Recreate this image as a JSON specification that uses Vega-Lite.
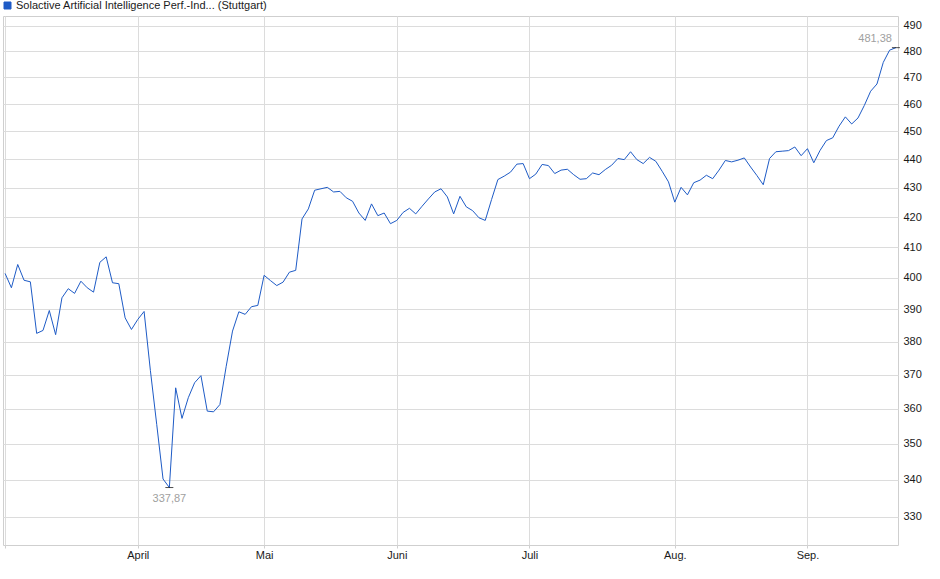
{
  "$schema": "https://vega.github.io/schema/vega-lite/v6.json",
  "width": 895,
  "height": 529,
  "autosize": "none",
  "padding": {"left": 3, "top": 16, "right": 42, "bottom": 34},
  "background": "white",
  "config": {
    "font": "Liberation Sans",
    "view": {"stroke": "#cfcfcf", "strokeWidth": 1},
    "axis": {
      "labelFont": "Liberation Sans",
      "labelFontSize": 11,
      "labelColor": "#1a1a1a",
      "gridColor": "#dcdcdc",
      "gridWidth": 1,
      "domain": false,
      "title": null
    }
  },
  "datasets": {
    "series": [
      {"date": "2025-03-03", "value": 401.4},
      {"date": "2025-03-04", "value": 396.8},
      {"date": "2025-03-05", "value": 404.3},
      {"date": "2025-03-06", "value": 399.2},
      {"date": "2025-03-07", "value": 398.7},
      {"date": "2025-03-10", "value": 382.5},
      {"date": "2025-03-11", "value": 383.4},
      {"date": "2025-03-12", "value": 389.6},
      {"date": "2025-03-13", "value": 382.1},
      {"date": "2025-03-14", "value": 393.6},
      {"date": "2025-03-17", "value": 396.5},
      {"date": "2025-03-18", "value": 395.0},
      {"date": "2025-03-19", "value": 398.9},
      {"date": "2025-03-20", "value": 396.8},
      {"date": "2025-03-21", "value": 395.4},
      {"date": "2025-03-24", "value": 405.0},
      {"date": "2025-03-25", "value": 406.8},
      {"date": "2025-03-26", "value": 398.4},
      {"date": "2025-03-27", "value": 398.1},
      {"date": "2025-03-28", "value": 387.3},
      {"date": "2025-03-31", "value": 383.7},
      {"date": "2025-04-01", "value": 386.8},
      {"date": "2025-04-02", "value": 389.3},
      {"date": "2025-04-03", "value": 371.2},
      {"date": "2025-04-04", "value": 355.5},
      {"date": "2025-04-07", "value": 340.2},
      {"date": "2025-04-08", "value": 337.87},
      {"date": "2025-04-09", "value": 366.1},
      {"date": "2025-04-10", "value": 357.2},
      {"date": "2025-04-11", "value": 363.2},
      {"date": "2025-04-14", "value": 367.6},
      {"date": "2025-04-15", "value": 369.7},
      {"date": "2025-04-16", "value": 359.3},
      {"date": "2025-04-17", "value": 359.1},
      {"date": "2025-04-22", "value": 361.2},
      {"date": "2025-04-23", "value": 372.5},
      {"date": "2025-04-24", "value": 383.2},
      {"date": "2025-04-25", "value": 389.2},
      {"date": "2025-04-28", "value": 388.4},
      {"date": "2025-04-29", "value": 390.8},
      {"date": "2025-04-30", "value": 391.2},
      {"date": "2025-05-02", "value": 400.8},
      {"date": "2025-05-05", "value": 399.1},
      {"date": "2025-05-06", "value": 397.5},
      {"date": "2025-05-07", "value": 398.6},
      {"date": "2025-05-08", "value": 401.8},
      {"date": "2025-05-09", "value": 402.4},
      {"date": "2025-05-12", "value": 419.4},
      {"date": "2025-05-13", "value": 422.8},
      {"date": "2025-05-14", "value": 429.2},
      {"date": "2025-05-15", "value": 429.7},
      {"date": "2025-05-16", "value": 430.2},
      {"date": "2025-05-19", "value": 428.6},
      {"date": "2025-05-20", "value": 428.8},
      {"date": "2025-05-21", "value": 426.6},
      {"date": "2025-05-22", "value": 425.4},
      {"date": "2025-05-23", "value": 421.4},
      {"date": "2025-05-26", "value": 418.9},
      {"date": "2025-05-27", "value": 424.5},
      {"date": "2025-05-28", "value": 420.5},
      {"date": "2025-05-29", "value": 421.4},
      {"date": "2025-05-30", "value": 417.8},
      {"date": "2025-06-02", "value": 418.9},
      {"date": "2025-06-03", "value": 421.6},
      {"date": "2025-06-04", "value": 423.0},
      {"date": "2025-06-05", "value": 421.1},
      {"date": "2025-06-06", "value": 423.7},
      {"date": "2025-06-09", "value": 426.2},
      {"date": "2025-06-10", "value": 428.6},
      {"date": "2025-06-11", "value": 429.7},
      {"date": "2025-06-12", "value": 426.9},
      {"date": "2025-06-13", "value": 421.1},
      {"date": "2025-06-16", "value": 427.1},
      {"date": "2025-06-17", "value": 423.5},
      {"date": "2025-06-18", "value": 422.2},
      {"date": "2025-06-19", "value": 419.8},
      {"date": "2025-06-20", "value": 418.9},
      {"date": "2025-06-23", "value": 426.0},
      {"date": "2025-06-24", "value": 432.9},
      {"date": "2025-06-25", "value": 434.1},
      {"date": "2025-06-26", "value": 435.5},
      {"date": "2025-06-27", "value": 438.3},
      {"date": "2025-06-30", "value": 438.5},
      {"date": "2025-07-01", "value": 433.2},
      {"date": "2025-07-02", "value": 434.8},
      {"date": "2025-07-03", "value": 438.2},
      {"date": "2025-07-04", "value": 437.8},
      {"date": "2025-07-07", "value": 435.0},
      {"date": "2025-07-08", "value": 436.2},
      {"date": "2025-07-09", "value": 436.5},
      {"date": "2025-07-10", "value": 434.6},
      {"date": "2025-07-11", "value": 433.0},
      {"date": "2025-07-14", "value": 433.2},
      {"date": "2025-07-15", "value": 435.2},
      {"date": "2025-07-16", "value": 434.6},
      {"date": "2025-07-17", "value": 436.4},
      {"date": "2025-07-18", "value": 437.9},
      {"date": "2025-07-21", "value": 440.3},
      {"date": "2025-07-22", "value": 439.9},
      {"date": "2025-07-23", "value": 442.7},
      {"date": "2025-07-24", "value": 439.9},
      {"date": "2025-07-25", "value": 438.5},
      {"date": "2025-07-28", "value": 440.7},
      {"date": "2025-07-29", "value": 439.3},
      {"date": "2025-07-30", "value": 435.8},
      {"date": "2025-07-31", "value": 432.1},
      {"date": "2025-08-01", "value": 425.1},
      {"date": "2025-08-04", "value": 430.2},
      {"date": "2025-08-05", "value": 427.6},
      {"date": "2025-08-06", "value": 431.8},
      {"date": "2025-08-07", "value": 432.7},
      {"date": "2025-08-08", "value": 434.4},
      {"date": "2025-08-11", "value": 433.2},
      {"date": "2025-08-12", "value": 436.2},
      {"date": "2025-08-13", "value": 439.6},
      {"date": "2025-08-14", "value": 439.1},
      {"date": "2025-08-15", "value": 439.7},
      {"date": "2025-08-18", "value": 440.5},
      {"date": "2025-08-19", "value": 437.3},
      {"date": "2025-08-20", "value": 434.3},
      {"date": "2025-08-21", "value": 431.1},
      {"date": "2025-08-22", "value": 440.3},
      {"date": "2025-08-25", "value": 442.7},
      {"date": "2025-08-26", "value": 442.9},
      {"date": "2025-08-27", "value": 443.1},
      {"date": "2025-08-28", "value": 444.4},
      {"date": "2025-08-29", "value": 441.3},
      {"date": "2025-09-01", "value": 443.8},
      {"date": "2025-09-02", "value": 438.8},
      {"date": "2025-09-03", "value": 443.2},
      {"date": "2025-09-04", "value": 446.7},
      {"date": "2025-09-05", "value": 447.7},
      {"date": "2025-09-08", "value": 451.9},
      {"date": "2025-09-09", "value": 455.3},
      {"date": "2025-09-10", "value": 452.7},
      {"date": "2025-09-11", "value": 454.9},
      {"date": "2025-09-12", "value": 459.5},
      {"date": "2025-09-15", "value": 464.8},
      {"date": "2025-09-16", "value": 467.5},
      {"date": "2025-09-17", "value": 475.7},
      {"date": "2025-09-18", "value": 480.4},
      {"date": "2025-09-19", "value": 481.38}
    ],
    "low": [{"date": "2025-04-08", "value": 337.87, "label": "337,87"}],
    "high": [{"date": "2025-09-19", "value": 481.38, "label": "481,38"}]
  },
  "encoding": {
    "x": {
      "field": "date",
      "type": "ordinal",
      "scale": {"type": "point", "padding": 0.33},
      "axis": {
        "values": ["2025-03-03", "2025-04-01", "2025-05-02", "2025-06-02", "2025-07-01", "2025-08-01", "2025-09-01"],
        "labelExpr": "['', 'April', 'Mai', 'Juni', 'Juli', 'Aug.', 'Sep.'][indexof(['2025-03-03', '2025-04-01', '2025-05-02', '2025-06-02', '2025-07-01', '2025-08-01', '2025-09-01'], datum.value)]",
        "labelAngle": 0,
        "grid": true,
        "ticks": true,
        "tickSize": 3,
        "tickColor": "#cfcfcf",
        "labelPadding": 1
      }
    },
    "y": {
      "field": "value",
      "type": "quantitative",
      "scale": {"type": "log", "domain": [322.6, 493.8], "nice": false, "zero": false},
      "axis": {
        "orient": "right",
        "values": [330, 340, 350, 360, 370, 380, 390, 400, 410, 420, 430, 440, 450, 460, 470, 480, 490],
        "format": "d",
        "ticks": false,
        "labelPadding": 5,
        "grid": true
      }
    }
  },
  "layer": [
    {
      "data": {"name": "series"},
      "mark": {"type": "line", "strokeWidth": 1, "interpolate": "linear"},
      "encoding": {
        "color": {
          "datum": "Solactive Artificial Intelligence Perf.-Ind... (Stuttgart)",
          "scale": {"range": ["#1e5bc6"]},
          "legend": {
            "title": null,
            "orient": "none",
            "legendX": -1,
            "legendY": -16,
            "padding": 0,
            "symbolType": "square",
            "symbolSize": 49,
            "symbolFillColor": "#1e5bc6",
            "symbolStrokeWidth": 1,
            "labelFont": "Liberation Sans",
            "labelFontSize": 11,
            "labelColor": "#1a1a1a",
            "labelOffset": 3,
            "labelLimit": 400,
            "symbolOffset": 0,
            "encode": {"symbols": {"update": {"stroke": {"value": "#13306e"}, "fill": {"value": "#1e5bc6"}}}}
          }
        }
      }
    },
    {
      "data": {"name": "low"},
      "mark": {"type": "tick", "orient": "horizontal", "size": 8, "thickness": 1, "color": "#000000"}
    },
    {
      "data": {"name": "high"},
      "mark": {"type": "tick", "orient": "horizontal", "size": 8, "thickness": 1, "color": "#000000"}
    },
    {
      "data": {"name": "low"},
      "mark": {"type": "text", "baseline": "top", "align": "center", "dy": 5, "fontSize": 11, "color": "#a0a0a0"},
      "encoding": {"text": {"field": "label"}}
    },
    {
      "data": {"name": "high"},
      "mark": {"type": "text", "baseline": "bottom", "align": "right", "dx": -4, "dy": -4, "fontSize": 11, "color": "#a0a0a0"},
      "encoding": {"text": {"field": "label"}}
    }
  ]
}
